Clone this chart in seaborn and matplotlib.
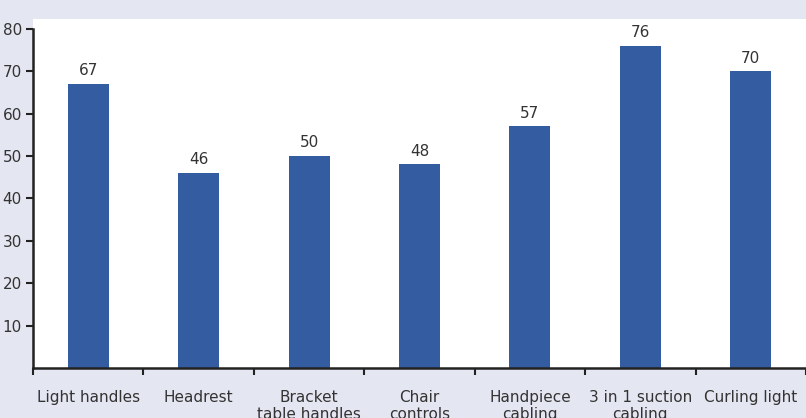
import matplotlib
matplotlib.use("Agg")
import matplotlib.pyplot as plt
import seaborn as sns
import pandas as pd
import numpy as np

categories = ["Light handles", "Headrest", "Bracket\ntable handles", "Chair\ncontrols",
              "Handpiece\ncabling", "3 in 1 suction\ncabling", "Curling light"]
values = [67, 46, 50, 48, 57, 76, 70]
yticks = [10, 20, 30, 40, 50, 60, 70, 80]

bg = "#e4e6f1"
bar_color = "#335da0"
text_color = "#333333"

sns.set_theme(style="white")
plt.rcParams["font.family"] = ["DejaVu Sans"]

fig = plt.figure(figsize=(8.06, 4.18), dpi=100, facecolor=bg)
ax = fig.add_axes([33 / 806, 50 / 418, 773 / 806, 349 / 418])
ax.set_facecolor("white")

df = pd.DataFrame({"category": categories, "value": values})
sns.barplot(data=df, x="category", y="value", color=bar_color, saturation=1,
            width=0.37, linewidth=0, ax=ax)

for i, v in enumerate(values):
    ax.text(i, v + 1.3, f"{v}", ha="center", va="bottom", fontsize=11, color=text_color)

ax.set_xlim(-0.5, len(categories) - 0.5)
ax.set_ylim(0, 82.3)
ax.set_yticks(yticks)
ax.set_yticklabels([str(t) for t in yticks], fontsize=11, color=text_color)
ax.set_xticks(range(len(categories)))
ax.set_xticklabels(categories, fontsize=11, color=text_color, linespacing=1.15)
ax.set_xticks(np.arange(-0.5, len(categories) + 0.5, 1), minor=True)
ax.tick_params(axis="x", which="major", length=0, pad=16)
ax.tick_params(axis="x", which="minor", length=5, width=1.5, color="#222222", direction="out", bottom=True)
ax.tick_params(axis="y", which="major", length=5, width=1.5, color="#222222", direction="out", left=True, pad=3)
ax.set_xlabel("")
ax.set_ylabel("")

for s in ["top", "right"]:
    ax.spines[s].set_visible(False)
for s in ["left", "bottom"]:
    ax.spines[s].set_visible(True)
    ax.spines[s].set_color("#222222")
    ax.spines[s].set_linewidth(1.8)
ax.spines["left"].set_bounds(0, 80)

fig.savefig("out.png", dpi=100, facecolor=bg)
